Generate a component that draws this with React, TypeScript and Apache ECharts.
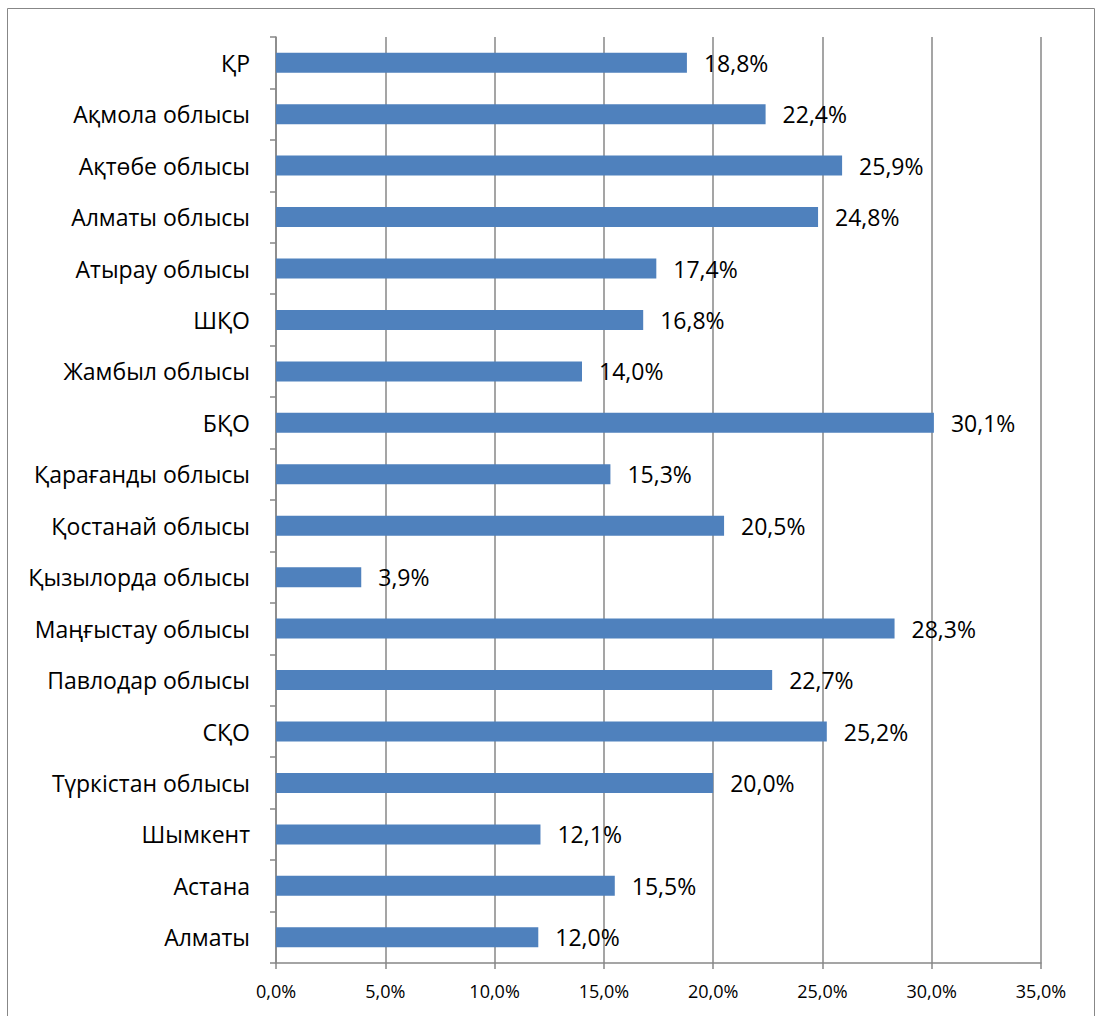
import React, { useEffect, useRef } from "react";
import * as echarts from "echarts";

const regions = [
  "ҚР",
  "Ақмола облысы",
  "Ақтөбе облысы",
  "Алматы облысы",
  "Атырау облысы",
  "ШҚО",
  "Жамбыл облысы",
  "БҚО",
  "Қарағанды облысы",
  "Қостанай облысы",
  "Қызылорда облысы",
  "Маңғыстау облысы",
  "Павлодар облысы",
  "СҚО",
  "Түркістан облысы",
  "Шымкент",
  "Астана",
  "Алматы",
];

const shares = [
  18.8, 22.4, 25.9, 24.8, 17.4, 16.8, 14.0, 30.1, 15.3, 20.5, 3.9, 28.3, 22.7,
  25.2, 20.0, 12.1, 15.5, 12.0,
];

const axisMin = 0;
const axisMax = 35;
const axisStep = 5;

const pct = (v: number) => v.toFixed(1).replace(".", ",") + "%";

export default function App() {
  const ref = useRef<HTMLDivElement>(null);

  useEffect(() => {
    document.body.style.margin = "0";
    const chart = echarts.init(ref.current!, undefined, { renderer: "svg" });
    const font = "'Open Sans', 'Noto Sans', sans-serif";
    chart.setOption({
      animation: false,
      backgroundColor: "#ffffff",
      textStyle: { fontFamily: font },
      graphic: [
        {
          type: "rect",
          shape: { x: 7.5, y: 8.5, width: 1087, height: 1020 },
          style: { fill: "none", stroke: "#878787", lineWidth: 1 },
          silent: true,
        },
      ],
      grid: { left: 276, right: 55, top: 37, bottom: 53, containLabel: false },
      xAxis: {
        type: "value",
        min: axisMin,
        max: axisMax,
        interval: axisStep,
        axisLine: { show: true, lineStyle: { color: "#878787", width: 1.5 } },
        axisTick: { show: true, length: 6, lineStyle: { color: "#878787", width: 1.5 } },
        splitLine: { show: true, lineStyle: { color: "#878787", width: 1.5 } },
        axisLabel: {
          color: "#000",
          fontSize: 18,
          fontFamily: font,
          margin: 19,
          formatter: (v: number) => pct(v),
        },
      },
      yAxis: {
        type: "category",
        data: regions,
        inverse: true,
        axisLine: { show: true, lineStyle: { color: "#878787", width: 1.5 } },
        axisTick: { show: true, length: 6, lineStyle: { color: "#878787", width: 1.5 } },
        axisLabel: { color: "#000", fontSize: 23, fontFamily: font, margin: 26 },
      },
      series: [
        {
          type: "bar",
          data: shares,
          barWidth: 20,
          itemStyle: { color: "#4F81BD" },
          label: {
            show: true,
            position: "right",
            distance: 17,
            color: "#000",
            fontSize: 23,
            fontFamily: font,
            formatter: (p: any) => pct(p.value),
          },
        },
      ],
    });
    return () => chart.dispose();
  }, []);

  return <div ref={ref} style={{ width: 1096, height: 1016 }} />;
}
